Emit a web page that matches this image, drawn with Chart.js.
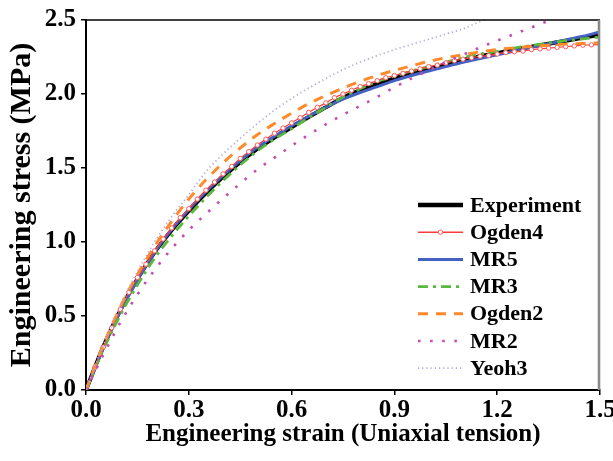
<!DOCTYPE html>
<html>
<head>
<meta charset="utf-8">
<script src="https://cdn.jsdelivr.net/npm/chart.js@4.4.1/dist/chart.umd.min.js"></script>
<style>
  html, body { margin: 0; padding: 0; background: #fff; overflow: hidden; width: 613px; height: 461px; }
  canvas { display: block; }
</style>
</head>
<body>
<canvas id="c" width="625" height="461"></canvas>
<script>
// Strain grids (engineering strain, uniaxial tension)
const strain = [0.00, 0.05, 0.10, 0.15, 0.20, 0.25, 0.30, 0.35, 0.40, 0.45,
                0.50, 0.55, 0.60, 0.65, 0.70, 0.75, 0.80, 0.85, 0.90, 0.95,
                1.00, 1.05, 1.10, 1.15, 1.20, 1.25, 1.30, 1.35, 1.40, 1.45, 1.50];
const strainFine = [0.000, 0.025, 0.050, 0.075, 0.100, 0.125, 0.150, 0.175, 0.200, 0.225,
                    0.250, 0.275, 0.300, 0.325, 0.350, 0.375, 0.400, 0.425, 0.450, 0.475,
                    0.500, 0.525, 0.550, 0.575, 0.600, 0.625, 0.650, 0.675, 0.700, 0.725,
                    0.750, 0.775, 0.800, 0.825, 0.850, 0.875, 0.900, 0.925, 0.950, 0.975,
                    1.000, 1.025, 1.050, 1.075, 1.100, 1.125, 1.150, 1.175, 1.200, 1.225,
                    1.250, 1.275, 1.300, 1.325, 1.350, 1.375, 1.400, 1.425, 1.450, 1.475, 1.500];

// Engineering stress (MPa)
const experiment = [0, 0.29, 0.54, 0.75, 0.93, 1.08, 1.21, 1.33, 1.44, 1.54,
                    1.63, 1.705, 1.775, 1.845, 1.91, 1.975, 2.025, 2.07, 2.105, 2.14,
                    2.17, 2.20, 2.23, 2.255, 2.275, 2.30, 2.32, 2.34, 2.36, 2.38, 2.40];
const ogden4 = [0, 0.15, 0.29, 0.42, 0.545, 0.66, 0.76, 0.85, 0.94, 1.02,
                1.095, 1.165, 1.225, 1.29, 1.35, 1.405, 1.46, 1.51, 1.565, 1.61,
                1.655, 1.695, 1.735, 1.77, 1.805, 1.84, 1.875, 1.91, 1.94, 1.975,
                2.00, 2.025, 2.05, 2.07, 2.09, 2.11, 2.125, 2.14, 2.155, 2.17,
                2.185, 2.195, 2.21, 2.225, 2.235, 2.245, 2.255, 2.26, 2.27, 2.28,
                2.285, 2.29, 2.30, 2.305, 2.31, 2.315, 2.32, 2.325, 2.33, 2.332, 2.335];
const mr5 = [0, 0.28, 0.53, 0.745, 0.93, 1.085, 1.22, 1.34, 1.45, 1.55,
             1.64, 1.715, 1.785, 1.85, 1.91, 1.965, 2.01, 2.05, 2.09, 2.125,
             2.155, 2.185, 2.215, 2.24, 2.265, 2.29, 2.315, 2.34, 2.365, 2.39, 2.42];
const mr3 = [0, 0.27, 0.505, 0.71, 0.89, 1.04, 1.175, 1.30, 1.415, 1.52,
             1.615, 1.695, 1.765, 1.84, 1.91, 1.98, 2.035, 2.085, 2.12, 2.155,
             2.185, 2.215, 2.245, 2.27, 2.287, 2.31, 2.328, 2.345, 2.36, 2.372, 2.385];
const ogden2 = [0, 0.30, 0.56, 0.78, 0.97, 1.14, 1.29, 1.42, 1.535, 1.635,
                1.725, 1.80, 1.87, 1.935, 1.99, 2.04, 2.085, 2.125, 2.16, 2.19,
                2.22, 2.245, 2.265, 2.285, 2.30, 2.312, 2.322, 2.33, 2.337, 2.342, 2.345];
const mr2 = [0, 0.235, 0.455, 0.645, 0.81, 0.955, 1.08, 1.19, 1.295, 1.395,
             1.49, 1.57, 1.65, 1.725, 1.795, 1.86, 1.92, 1.98, 2.045, 2.105,
             2.16, 2.215, 2.265, 2.315, 2.36, 2.405, 2.45, 2.495, 2.535, 2.575];
const yeoh3 = [0, 0.30, 0.57, 0.80, 1.00, 1.17, 1.32, 1.475, 1.595, 1.70,
               1.80, 1.89, 1.97, 2.04, 2.105, 2.165, 2.215, 2.26, 2.30, 2.335,
               2.37, 2.405, 2.44, 2.49, 2.535];

// Axis ticks
const xTicks = [0.0, 0.3, 0.6, 0.9, 1.2, 1.5];
const yTicks = [0.0, 0.5, 1.0, 1.5, 2.0, 2.5];

const pairs = (xs, ys) => ys.map((y, i) => ({ x: xs[i], y }));
const SERIF = '"Liberation Serif", "Times New Roman", serif';

const datasets = [
  { label: 'Experiment', data: pairs(strain, experiment), borderColor: '#000000',
    borderWidth: 4, pointRadius: 0, order: 7, legendWidth: 4.5 },
  { label: 'Ogden4', data: pairs(strainFine, ogden4), borderColor: '#ff3b3b',
    borderWidth: 1.2, pointRadius: 2.2, pointBorderWidth: 1, pointBorderColor: '#ff5a5a',
    pointBackgroundColor: '#ffffff', order: 4, legendWidth: 1.5 },
  { label: 'MR5', data: pairs(strain, mr5), borderColor: '#4461c2',
    borderWidth: 3, pointRadius: 0, order: 6, legendWidth: 3 },
  { label: 'MR3', data: pairs(strain, mr3), borderColor: '#58b93c',
    borderWidth: 2.8, borderDash: [10, 5, 3, 5], pointRadius: 0, order: 5, legendWidth: 2.8 },
  { label: 'Ogden2', data: pairs(strain, ogden2), borderColor: '#ff8a2b',
    borderWidth: 3, borderDash: [10, 8], pointRadius: 0, order: 3, legendWidth: 3 },
  { label: 'MR2', data: pairs(strain, mr2), borderColor: '#c64db3',
    borderWidth: 2.6, borderDash: [2.6, 9.5], pointRadius: 0, order: 2, legendWidth: 2.6 },
  { label: 'Yeoh3', data: pairs(strain, yeoh3), borderColor: '#b2a8e2',
    borderWidth: 1.8, borderDash: [1.2, 3], pointRadius: 0, order: 1, legendWidth: 1.8 }
];
datasets.forEach(d => { d.fill = false; d.cubicInterpolationMode = 'monotone'; });

// Box frame: top edge and right edge of the plotting area
const framePlugin = {
  id: 'frame',
  afterDatasetsDraw(chart) {
    const { ctx, chartArea: a } = chart;
    ctx.save();
    ctx.strokeStyle = '#000';
    ctx.lineWidth = 1.6;
    ctx.beginPath();
    ctx.moveTo(a.left, a.top);
    ctx.lineTo(a.right, a.top);
    ctx.stroke();
    ctx.strokeStyle = '#8a8a8a';
    ctx.lineWidth = 2.6;
    ctx.beginPath();
    ctx.moveTo(a.right - 1, a.top);
    ctx.lineTo(a.right - 1, a.bottom);
    ctx.stroke();
    ctx.restore();
  }
};

// Legend inside the plot, lower right
const legendPlugin = {
  id: 'insideLegend',
  afterDraw(chart) {
    const { ctx, chartArea: a } = chart;
    const x0 = a.right - 182, x1 = x0 + 45, tx = x1 + 7;
    const y0 = a.top + 185, step = 27.2;
    ctx.save();
    chart.data.datasets.forEach((ds, i) => {
      const y = y0 + i * step;
      ctx.strokeStyle = ds.borderColor;
      ctx.lineWidth = ds.legendWidth;
      ctx.setLineDash(ds.borderDash || []);
      ctx.lineCap = 'butt';
      ctx.beginPath();
      ctx.moveTo(x0, y);
      ctx.lineTo(x1, y);
      ctx.stroke();
      ctx.setLineDash([]);
      if (ds.pointRadius > 0) {
        ctx.beginPath();
        ctx.arc((x0 + x1) / 2, y, ds.pointRadius, 0, Math.PI * 2);
        ctx.fillStyle = ds.pointBackgroundColor;
        ctx.fill();
        ctx.lineWidth = ds.pointBorderWidth;
        ctx.strokeStyle = ds.pointBorderColor;
        ctx.stroke();
      }
      ctx.fillStyle = '#000';
      ctx.font = 'bold 22px ' + SERIF;
      ctx.textBaseline = 'middle';
      ctx.textAlign = 'left';
      ctx.fillText(ds.label, tx, y + 1);
    });
    ctx.restore();
  }
};

new Chart(document.getElementById('c'), {
  type: 'line',
  data: { datasets },
  options: {
    responsive: false,
    animation: false,
    devicePixelRatio: 1,
    layout: { padding: { top: 15, right: 25, left: 0, bottom: 7 } },
    plugins: { legend: { display: false }, tooltip: { enabled: false } },
    scales: {
      x: {
        type: 'linear', min: 0, max: 1.5,
        afterBuildTicks: s => { s.ticks = xTicks.map(v => ({ value: v })); },
        afterFit: s => { s.height = 64; },
        border: { display: true, color: '#000', width: 2 },
        grid: { drawOnChartArea: false, drawTicks: true, tickLength: 5, color: '#000', lineWidth: 1.5 },
        ticks: { color: '#000', padding: 1, font: { family: SERIF, size: 25, weight: 'bold' },
                 callback: v => Number(v).toFixed(1) },
        title: { display: true, text: 'Engineering strain (Uniaxial tension)', color: '#000',
                 font: { family: SERIF, size: 25, weight: 'bold' }, padding: { top: 0, bottom: 4 } }
      },
      y: {
        type: 'linear', min: 0, max: 2.5,
        afterBuildTicks: s => { s.ticks = yTicks.map(v => ({ value: v })); },
        afterFit: s => { s.width = 86; },
        border: { display: true, color: '#000', width: 2 },
        grid: { drawOnChartArea: false, drawTicks: true, tickLength: 5, color: '#000', lineWidth: 1.5 },
        ticks: { color: '#000', padding: 5, font: { family: SERIF, size: 25, weight: 'bold' },
                 callback: v => Number(v).toFixed(1) },
        title: { display: true, text: 'Engineering stress (MPa)', color: '#000',
                 font: { family: SERIF, size: 30, weight: 'bold' }, padding: { top: 4, bottom: 0 } }
      }
    }
  },
  plugins: [framePlugin, legendPlugin]
});
</script>
</body>
</html>
